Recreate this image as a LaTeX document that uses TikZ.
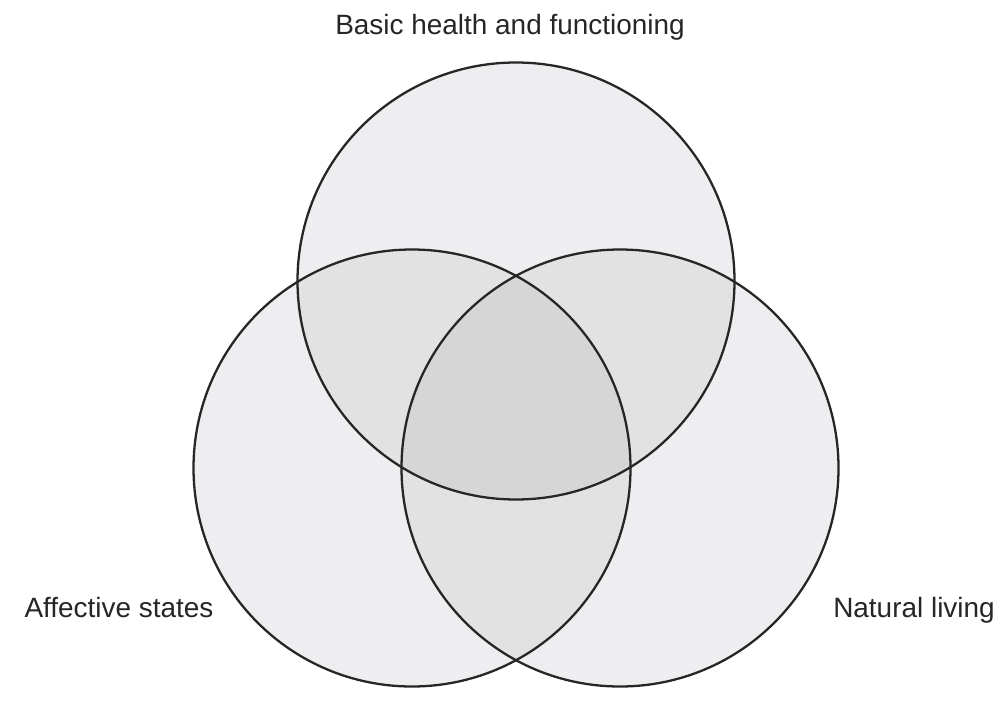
\documentclass[tikz,border=0pt]{standalone}
\usepackage{fontspec}
\setmainfont{Liberation Sans}
\usetikzlibrary{positioning}

\definecolor{oneset}{HTML}{EEEEF0}
\definecolor{twoset}{HTML}{E2E2E3}
\definecolor{threeset}{HTML}{D6D6D7}

\tikzset{
  ring/.style={draw=black!85,line width=0.65pt},
  setlabel/.style={font=\fontsize{7.95}{9.5}\selectfont,text=black!85,anchor=base,inner sep=0pt}
}

\begin{document}
\begin{tikzpicture}
  \useasboundingbox (0,0) rectangle (10,7.04);
  \coordinate (health) at (5.16,4.23);
  \coordinate (affect) at (4.12,2.36);
  \coordinate (nature) at (6.20,2.36);
  \def\rad{2.185}
  % single sets
  \fill [oneset] (health) circle [radius=\rad];
  \fill [oneset] (affect) circle [radius=\rad];
  \fill [oneset] (nature) circle [radius=\rad];
  % pairs
  \begin{scope}
    \clip (health) circle [radius=\rad];
    \fill [twoset] (affect) circle [radius=\rad];
    \fill [twoset] (nature) circle [radius=\rad];
  \end{scope}
  \begin{scope}
    \clip (affect) circle [radius=\rad];
    \fill [twoset] (nature) circle [radius=\rad];
  \end{scope}
  % all three
  \begin{scope}
    \clip (health) circle [radius=\rad];
    \clip (affect) circle [radius=\rad];
    \fill [threeset] (nature) circle [radius=\rad];
  \end{scope}
  \draw [ring] (health) circle [radius=\rad];
  \draw [ring] (affect) circle [radius=\rad];
  \draw [ring] (nature) circle [radius=\rad];
  \node [setlabel] (healthlabel) at (5.10,6.69) {Basic health and functioning};
  \node [setlabel] (affectlabel) at (1.19,0.87) {Affective states};
  \node [setlabel] (naturelabel) at (9.14,0.87) {Natural living};
\end{tikzpicture}
\end{document}
